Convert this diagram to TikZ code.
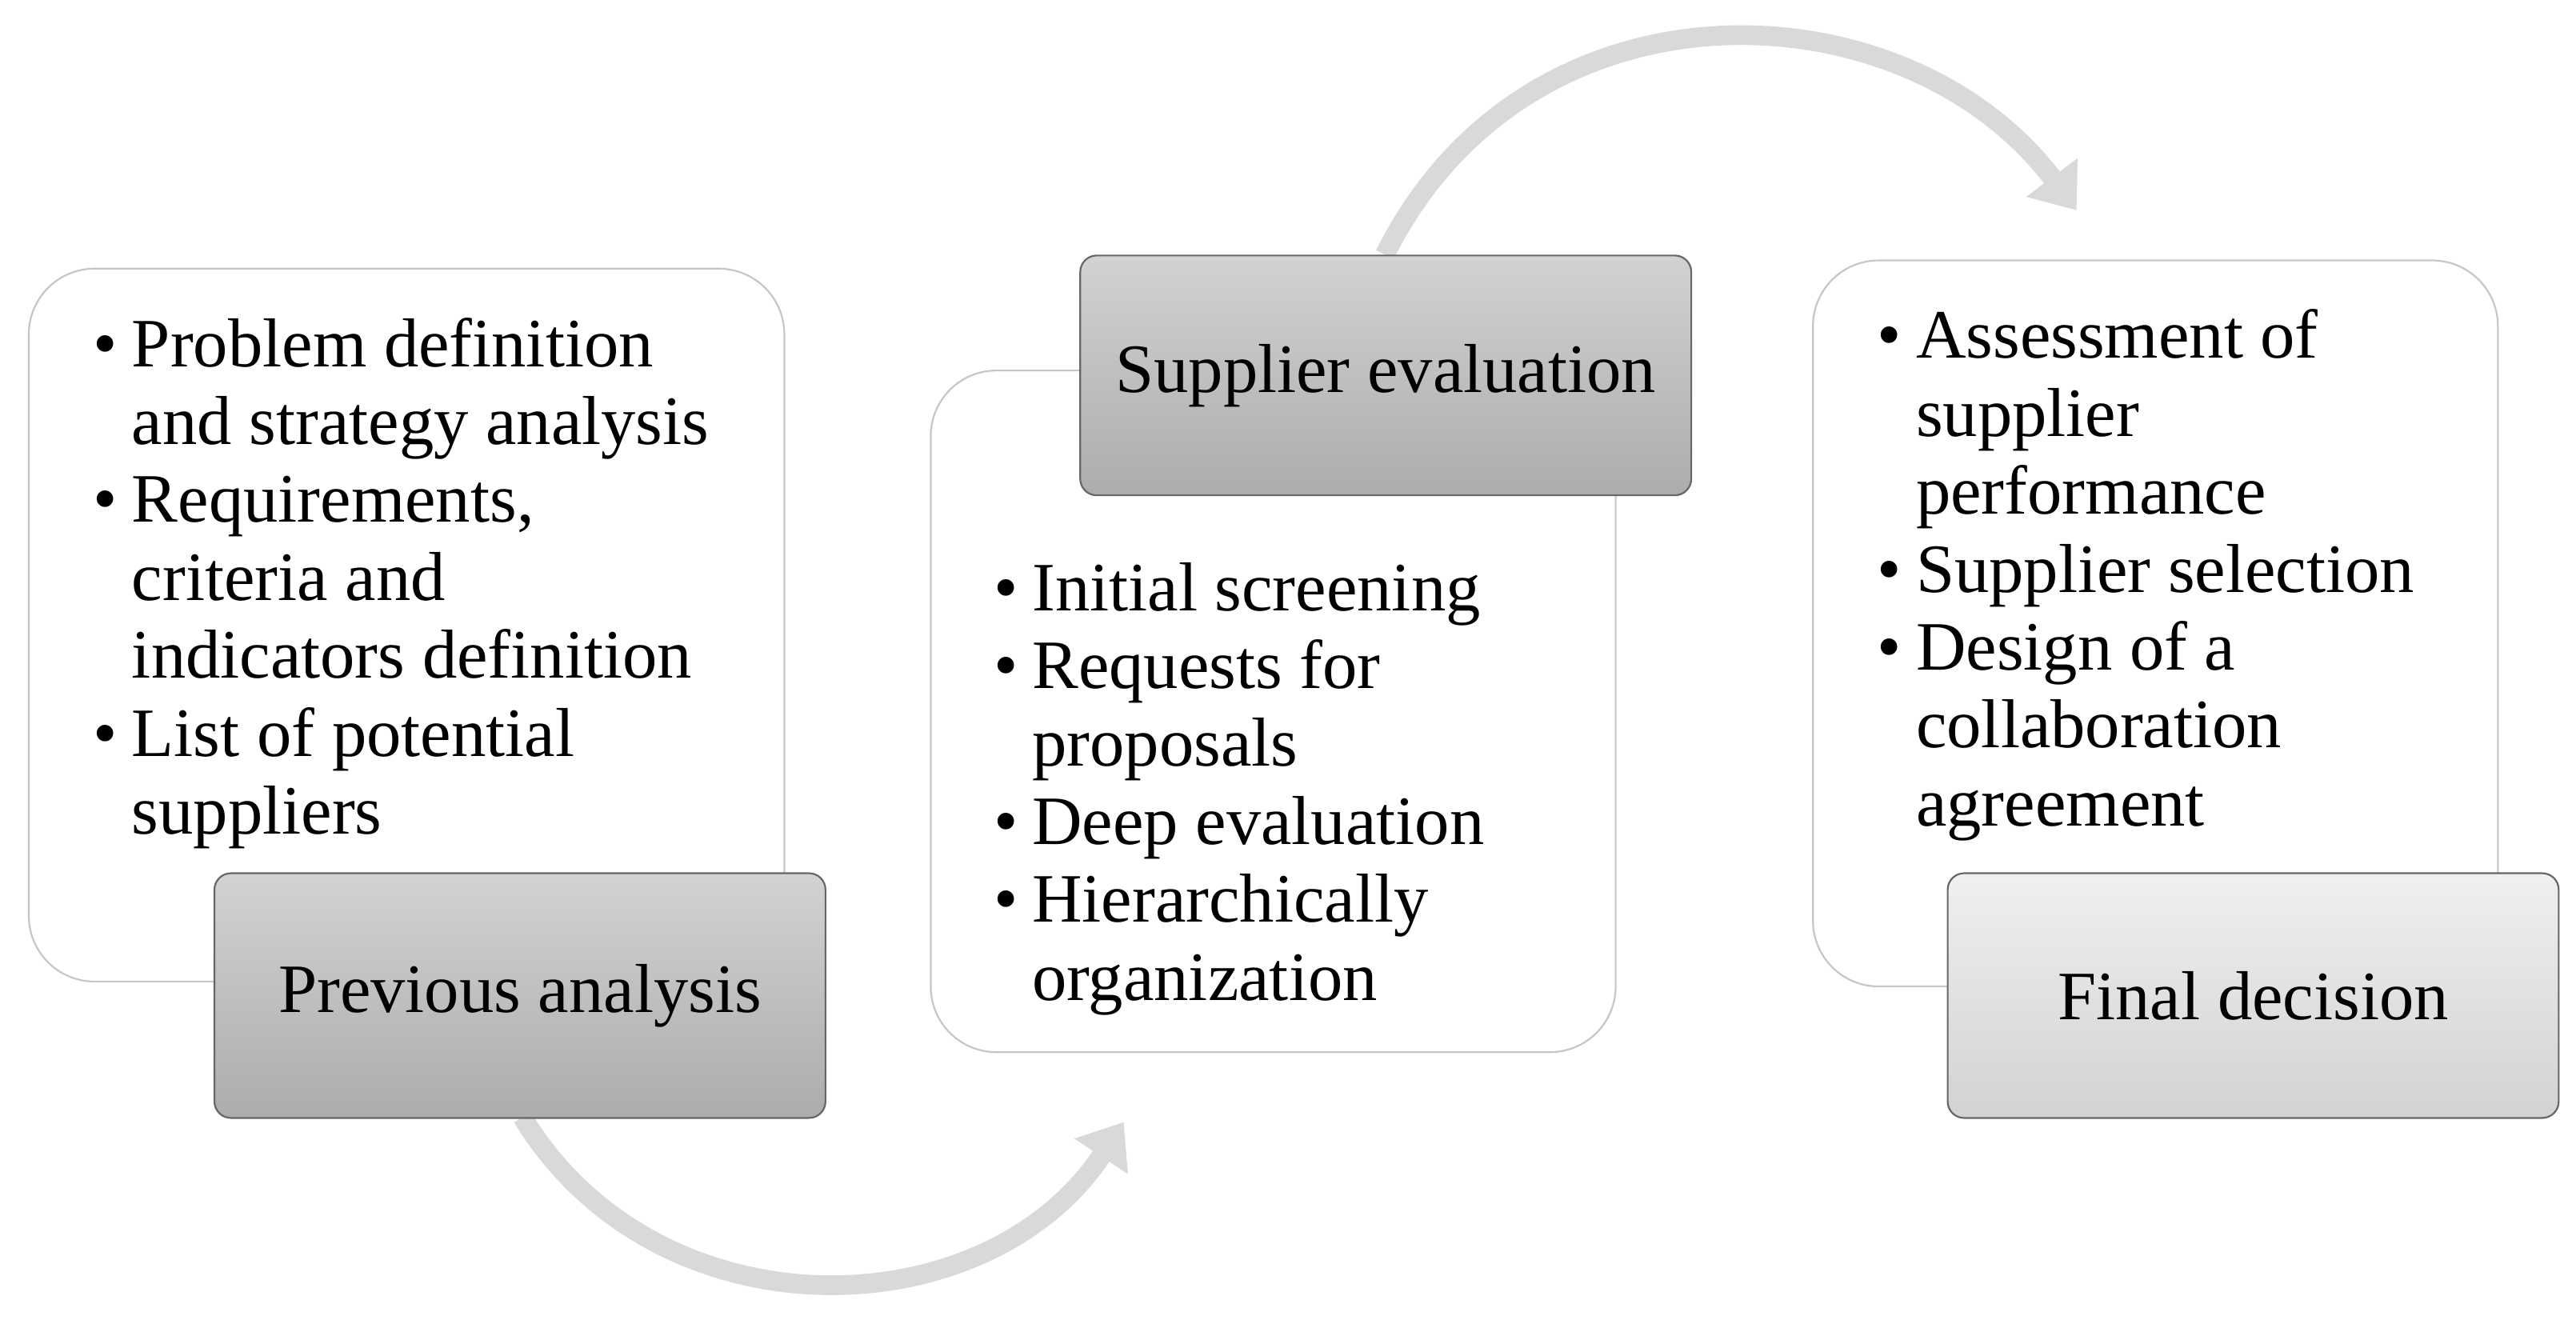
\documentclass[tikz,border=0pt]{standalone}
\usepackage{fontspec}
\setmainfont{Liberation Serif}
\usepackage{enumitem}
\usetikzlibrary{arrows.meta}
\tikzset{
  panel/.style={draw=gray!45, fill=white, rounded corners=0.8cm, line width=0.6pt},
  head/.style={draw=gray!80!black, rounded corners=0.2cm, line width=0.6pt,
    top color=gray!35, bottom color=gray!65, font=\fontsize{24}{27}\selectfont},
  headlight/.style={head, top color=gray!12, bottom color=gray!35},
  list/.style={anchor=north west, inner sep=0pt, align=left,
    font=\fontsize{24}{27}\selectfont},
  flow/.style={draw=gray!30, line width=0.24cm, -{Triangle[length=0.5cm,width=0.75cm]}}
}
\newcommand{\steps}[2]{%
  \begin{minipage}{#1}\raggedright\begin{itemize}[leftmargin=0.66cm,itemsep=0pt,topsep=0pt,parsep=0pt,label=\textbullet]#2\end{itemize}\end{minipage}}
\begin{document}
\begin{tikzpicture}[x=0.02cm,y=-0.02cm]
  \useasboundingbox (0,0) rectangle (1568,803);
  % connectors
  \coordinate (b0) at (318,680);
  \coordinate (b1) at (684,683);
  \coordinate (t0) at (843,155);
  \coordinate (t1) at (1264,128);
  \draw[flow] (b0) .. controls (400,815) and (600,810) .. (b1);
  \draw[flow] (t0) .. controls (930,-20) and (1160,-10) .. (t1);
  % panels
  \node[panel, minimum width=9.2cm, minimum height=8.68cm, anchor=north west] (prevbox) at (17,163) {};
  \node[panel, minimum width=8.34cm, minimum height=8.3cm, anchor=north west] (evalbox) at (566,225) {};
  \node[panel, minimum width=8.34cm, minimum height=8.84cm, anchor=north west] (finalbox) at (1103,158) {};
  % headers
  \node[head, minimum width=7.44cm, minimum height=2.98cm, anchor=north west] (prev) at (130,531) {Previous analysis};
  \node[head, minimum width=7.44cm, minimum height=2.92cm, anchor=north west] (eval) at (657,155) {Supplier evaluation};
  \node[headlight, minimum width=7.44cm, minimum height=2.98cm, anchor=north west] (final) at (1185,531) {Final decision};
  % lists
  \node[list] (prevlist) at (47,193) {\steps{7.9cm}{
    \item Problem definition and strategy analysis
    \item Requirements, criteria and indicators definition
    \item List of potential suppliers}};
  \node[list] (evallist) at (595,342) {\steps{6.4cm}{
    \item Initial screening
    \item Requests for proposals
    \item Deep evaluation
    \item Hierarchically organization}};
  \node[list] (finallist) at (1133,188) {\steps{7.2cm}{
    \item Assessment of supplier performance
    \item Supplier selection
    \item Design of a collaboration agreement}};
\end{tikzpicture}
\end{document}
